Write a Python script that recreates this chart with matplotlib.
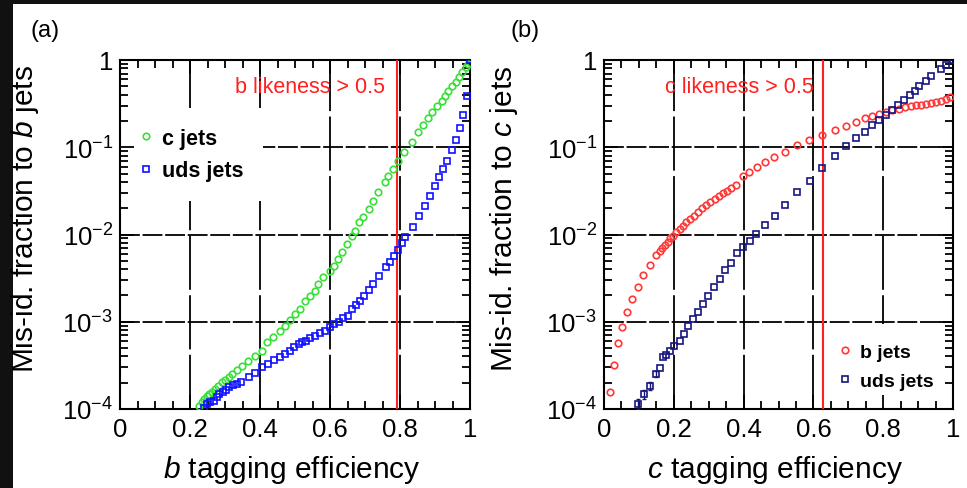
import matplotlib
matplotlib.use('Agg')
import matplotlib.pyplot as plt
from matplotlib.patches import Rectangle
from matplotlib.ticker import FixedLocator, LogLocator, MultipleLocator, FuncFormatter, NullFormatter

plt.rcParams['font.family'] = ['Liberation Sans', 'DejaVu Sans']
plt.rcParams['mathtext.fontset'] = 'custom'
plt.rcParams['mathtext.rm'] = 'Liberation Sans'
plt.rcParams['mathtext.it'] = 'Liberation Sans:italic'
plt.rcParams['mathtext.bf'] = 'Liberation Sans:bold'

# (a) mis-id fraction to b jets vs b tagging efficiency
a_c_eff = [0.227, 0.233, 0.240, 0.248, 0.255, 0.263, 0.271, 0.281, 0.290, 0.300, 0.310, 0.321,
           0.333, 0.348, 0.367, 0.386, 0.405, 0.419, 0.438, 0.457, 0.471, 0.486, 0.500, 0.514,
           0.529, 0.543, 0.557, 0.567, 0.581, 0.600, 0.610, 0.624, 0.633, 0.648, 0.662, 0.671,
           0.684, 0.695, 0.710, 0.724, 0.738, 0.757, 0.767, 0.781, 0.795, 0.810, 0.833, 0.852,
           0.867, 0.881, 0.892, 0.905, 0.919, 0.929, 0.938, 0.948, 0.959, 0.969, 0.978, 0.989, 0.995]
a_c_mis = [1.07e-4, 1.19e-4, 1.30e-4, 1.40e-4, 1.49e-4, 1.58e-4, 1.70e-4, 1.85e-4, 2.02e-4, 2.17e-4,
           2.31e-4, 2.52e-4, 2.82e-4, 3.14e-4, 3.58e-4, 4.09e-4, 4.66e-4, 5.81e-4, 6.63e-4, 7.90e-4,
           9.02e-4, 1.06e-3, 1.23e-3, 1.40e-3, 1.74e-3, 1.99e-3, 2.27e-3, 2.71e-3, 3.23e-3, 3.85e-3,
           4.39e-3, 5.24e-3, 6.25e-3, 7.79e-3, 9.53e-3, 1.11e-2, 1.38e-2, 1.57e-2, 1.96e-2, 2.44e-2,
           3.10e-2, 4.03e-2, 4.72e-2, 5.63e-2, 7.02e-2, 8.74e-2, 0.114, 0.148, 0.180, 0.216,
           0.251, 0.300, 0.342, 0.390, 0.446, 0.508, 0.565, 0.633, 0.722, 0.824, 0.900]

a_uds_eff = [0.240, 0.248, 0.257, 0.269, 0.276, 0.284, 0.293, 0.303, 0.312, 0.324, 0.333, 0.345,
             0.368, 0.387, 0.406, 0.424, 0.440, 0.457, 0.471, 0.486, 0.497, 0.510, 0.519, 0.530,
             0.543, 0.557, 0.571, 0.586, 0.600, 0.611, 0.625, 0.638, 0.650, 0.664, 0.674, 0.686,
             0.698, 0.710, 0.724, 0.741, 0.759, 0.770, 0.783, 0.793, 0.805, 0.814, 0.838, 0.855,
             0.871, 0.886, 0.900, 0.912, 0.924, 0.935, 0.948, 0.959, 0.970, 0.979, 0.990, 1.000]
a_uds_mis = [1.04e-4, 1.14e-4, 1.19e-4, 1.22e-4, 1.36e-4, 1.49e-4, 1.58e-4, 1.67e-4, 1.77e-4, 1.88e-4,
             1.93e-4, 2.06e-4, 2.35e-4, 2.59e-4, 3.01e-4, 3.28e-4, 3.68e-4, 3.91e-4, 4.27e-4, 4.66e-4,
             5.09e-4, 5.56e-4, 5.81e-4, 6.07e-4, 6.45e-4, 6.93e-4, 7.37e-4, 7.90e-4, 8.63e-4, 9.42e-4,
             1.00e-3, 1.09e-3, 1.17e-3, 1.40e-3, 1.56e-3, 1.74e-3, 1.99e-3, 2.33e-3, 2.71e-3, 3.32e-3,
             4.21e-3, 4.80e-3, 5.72e-3, 6.70e-3, 7.92e-3, 9.29e-3, 1.23e-2, 1.64e-2, 2.14e-2, 2.74e-2,
             3.56e-2, 4.52e-2, 5.63e-2, 7.02e-2, 9.29e-2, 0.121, 0.165, 0.236, 0.390, 1.0]

# (b) mis-id fraction to c jets vs c tagging efficiency
b_b_eff = [0.018, 0.028, 0.041, 0.053, 0.065, 0.080, 0.096, 0.112, 0.131, 0.150, 0.160, 0.167,
           0.175, 0.182, 0.190, 0.198, 0.207, 0.217, 0.226, 0.236, 0.247, 0.258, 0.269, 0.282,
           0.293, 0.305, 0.317, 0.330, 0.341, 0.352, 0.365, 0.379, 0.398, 0.415, 0.439, 0.462,
           0.488, 0.519, 0.554, 0.587, 0.625, 0.662, 0.694, 0.723, 0.747, 0.769, 0.788, 0.807,
           0.826, 0.845, 0.862, 0.879, 0.895, 0.909, 0.924, 0.938, 0.952, 0.967, 0.981, 0.992]
b_b_mis = [1.55e-4, 3.19e-4, 5.70e-4, 8.63e-4, 1.28e-3, 1.82e-3, 2.52e-3, 3.43e-3, 4.47e-3, 5.87e-3,
           6.41e-3, 6.94e-3, 7.58e-3, 8.28e-3, 9.03e-3, 9.70e-3, 1.06e-2, 1.16e-2, 1.26e-2, 1.38e-2,
           1.51e-2, 1.64e-2, 1.80e-2, 2.00e-2, 2.18e-2, 2.34e-2, 2.55e-2, 2.74e-2, 2.99e-2, 3.18e-2,
           3.38e-2, 3.69e-2, 4.72e-2, 5.25e-2, 5.99e-2, 6.84e-2, 7.73e-2, 8.89e-2, 0.106, 0.121,
           0.138, 0.159, 0.177, 0.196, 0.214, 0.230, 0.243, 0.254, 0.265, 0.277,
           0.287, 0.294, 0.302, 0.308, 0.313, 0.321, 0.333, 0.342, 0.357, 0.373]

b_uds_eff = [0.096, 0.114, 0.131, 0.150, 0.161, 0.169, 0.179, 0.190, 0.202, 0.217, 0.229, 0.242,
             0.256, 0.269, 0.284, 0.299, 0.315, 0.331, 0.348, 0.363, 0.382, 0.398, 0.417, 0.436,
             0.462, 0.489, 0.519, 0.553, 0.589, 0.625, 0.662, 0.694, 0.721, 0.747, 0.767, 0.788,
             0.807, 0.826, 0.842, 0.859, 0.876, 0.890, 0.904, 0.922, 0.938, 0.967, 0.979, 1.000]
b_uds_mis = [1.14e-4, 1.49e-4, 1.85e-4, 2.52e-4, 2.92e-4, 3.91e-4, 4.16e-4, 4.66e-4, 5.32e-4, 6.07e-4,
             7.24e-4, 9.02e-4, 1.08e-3, 1.31e-3, 1.60e-3, 1.99e-3, 2.48e-3, 3.09e-3, 3.95e-3, 4.71e-3,
             6.14e-3, 7.26e-3, 8.50e-3, 1.01e-2, 1.29e-2, 1.64e-2, 2.18e-2, 3.04e-2, 4.14e-2, 5.78e-2,
             8.01e-2, 0.103, 0.127, 0.151, 0.180, 0.207, 0.236, 0.270, 0.305, 0.351, 0.397, 0.446,
             0.499, 0.580, 0.650, 0.789, 0.877, 1.0]
b_uds_err = [1.5e-5, 1.8e-5, 1.8e-5, 2.0e-5]

b_cut = 0.791   # b likeness > 0.5
c_cut = 0.627   # c likeness > 0.5

ytick_vals = [1e-4, 1e-3, 1e-2, 1e-1, 1]
ytick_text = ['$10^{-4}$', '$10^{-3}$', '$10^{-2}$', '$10^{-1}$', '1']

fig = plt.figure(figsize=(9.67, 4.89), dpi=100)
fig.patch.set_facecolor('#111111')
fig.add_artist(Rectangle((13 / 967, 0), 1 - 13 / 967, 484 / 489, transform=fig.transFigure,
                         facecolor='white', edgecolor='none', zorder=-10))

ax1 = fig.add_axes([120 / 967, 79 / 489, 350 / 967, 349 / 489])
ax2 = fig.add_axes([604 / 967, 79 / 489, 349 / 967, 349 / 489])


def style_axes(ax, xlab, ylab):
    ax.set_yscale('log')
    ax.set_xlim(0, 1)
    ax.set_ylim(1e-4, 1)
    ax.set_axisbelow(False)
    for s in ax.spines.values():
        s.set_linewidth(1.5)
    ax.xaxis.set_major_locator(MultipleLocator(0.2))
    ax.xaxis.set_minor_locator(MultipleLocator(0.05))
    ax.xaxis.set_major_formatter(FuncFormatter(lambda v, _: f'{v:g}'))
    ax.yaxis.set_major_locator(FixedLocator(ytick_vals))
    ax.yaxis.set_minor_locator(LogLocator(base=10, subs=range(2, 10)))
    ax.yaxis.set_minor_formatter(NullFormatter())
    ax.set_yticklabels(ytick_text)
    ax.tick_params(which='both', direction='in', top=True, right=True, width=1.3,
                   labelsize=18.5, colors='black')
    ax.tick_params(which='major', length=10)
    ax.tick_params(which='minor', length=6)
    ax.tick_params(axis='x', pad=6)
    ax.tick_params(axis='y', pad=5)
    for v in [0.2, 0.4, 0.6, 0.8]:
        ax.axvline(v, color='black', lw=1.3, ls=(0, (30, 3)), zorder=1)
    for v in [1e-3, 1e-2, 1e-1]:
        ax.axhline(v, color='black', lw=1.3, ls=(0, (11, 1.5)), zorder=1)
    ax.set_xlabel(xlab, fontsize=21.5)
    ax.set_ylabel(ylab, fontsize=21.5)
    ax.xaxis.set_label_coords(0.49, -0.125)


style_axes(ax1, '$\\it{b}$ tagging efficiency', 'Mis-id. fraction to $\\it{b}$ jets')
style_axes(ax2, '$\\it{c}$ tagging efficiency', 'Mis-id. fraction to $\\it{c}$ jets')
ax1.yaxis.set_label_coords(-0.226, 0.547)
ax2.yaxis.set_label_coords(-0.241, 0.547)

mk = dict(ls='none', mfc='none', mew=1.2, ms=4.7, zorder=3)
leg_kw = dict(borderaxespad=0, frameon=True, fancybox=False, edgecolor='none', facecolor='white',
              framealpha=1, handlelength=0.6, handletextpad=0.45, labelspacing=0.55)

ax1.plot(a_c_eff, a_c_mis, 'o', color='#38e038', label='c jets', **mk)
ax1.plot(a_uds_eff, a_uds_mis, 's', color='#1010ff', label='uds jets', **mk)
ax1.axvline(b_cut, color='#ff2020', lw=1.5, zorder=2.8)
ax1.text(0.329, 0.925, 'b likeness > 0.5', color='#ff2020', fontsize=15.5,
         transform=ax1.transAxes, ha='left', va='center', zorder=4)
leg1 = ax1.legend(loc='upper left', bbox_to_anchor=(0.0, 0.862), borderpad=0.9,
                  prop={'weight': 'bold', 'size': 15.5}, **leg_kw)
leg1.set_zorder(2.2)

ax2.plot(b_b_eff, b_b_mis, 'o', color='#ff3838', label='b jets', **mk)
ax2.plot(b_uds_eff, b_uds_mis, 's', color='#151580', label='uds jets', **mk)
ax2.errorbar(b_uds_eff[:4], b_uds_mis[:4], yerr=b_uds_err, fmt='none', ecolor='#151580',
             elinewidth=1, capsize=1.5, zorder=3)
ax2.axvline(c_cut, color='#ff2020', lw=1.5, zorder=2.8)
ax2.text(0.175, 0.925, 'c likeness > 0.5', color='#ff2020', fontsize=15.5,
         transform=ax2.transAxes, ha='left', va='center', zorder=4)
leg2 = ax2.legend(loc='lower right', bbox_to_anchor=(1.0, 0.0), borderpad=1.0,
                  prop={'weight': 'bold', 'size': 14}, **leg_kw)
leg2.set_zorder(2.2)

fig.text(30 / 967, 1 - 31 / 489, '(a)', fontsize=17, va='center', ha='left')
fig.text(510 / 967, 1 - 31 / 489, '(b)', fontsize=17, va='center', ha='left')

fig.savefig('out.png', dpi=100, facecolor=fig.get_facecolor())
